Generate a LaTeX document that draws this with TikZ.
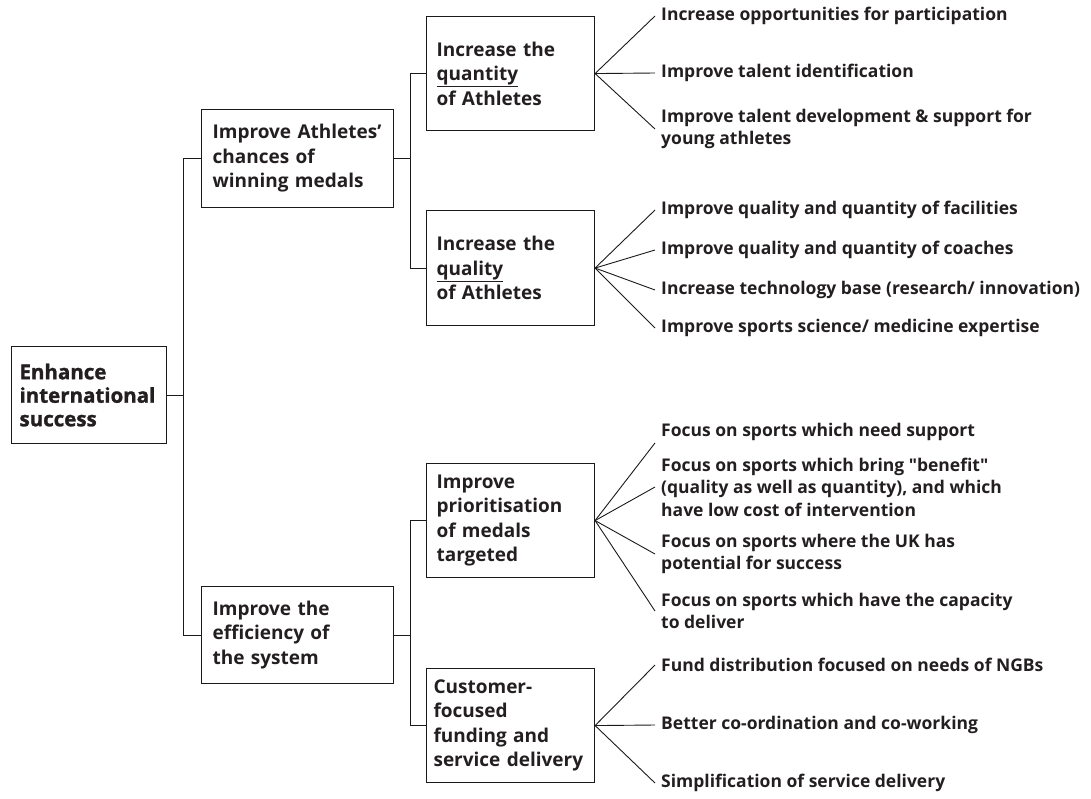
\documentclass[tikz,border=0pt]{standalone}
\usepackage{fontspec}
\setmainfont{Open Sans}
\newfontfamily\heavyface[BoldFeatures={FakeBold=1.3}]{Open Sans}
\definecolor{TXTdark}{HTML}{231F20}
\definecolor{LINEdark}{HTML}{1A1A1A}
\usetikzlibrary{calc, positioning}
\hyphenpenalty=10000
\newcommand{\boxfont}{\fontsize{19}{24.5}\selectfont\bfseries}
\newcommand{\rootfont}{\heavyface\fontsize{20.5}{23.5}\selectfont\bfseries}
\newcommand{\leaffont}{\fontsize{17.5}{22.5}\selectfont\bfseries}
\tikzset{
   box/.style={draw=LINEdark, line width=1.1pt, text=TXTdark, align=left, anchor=north west,
      inner xsep=10pt, inner ysep=0pt, font=\boxfont},
   leaf/.style={anchor=west, align=left, inner xsep=6pt, inner ysep=2pt, text=TXTdark, font=\leaffont},
   link/.style={draw=LINEdark, line width=0.9pt}
}

\begin{document}
\begin{tikzpicture}[x=1pt, y=-1pt]
   \useasboundingbox (0,0) rectangle (1091,798);
   % Goal
   \node[box, font=\rootfont, inner xsep=8pt, text width=139pt, minimum height=97pt] (goal) at (11,346)
      {Enhance\\ international\\ success};
   % Second level
   \node[box, inner xsep=11pt, text width=170pt, minimum height=98pt] (medals) at (201,109)
      {Improve Athletes’\\ chances of\\ winning medals};
   \node[box, inner xsep=11pt, text width=170pt, minimum height=97pt] (effic) at (201,586)
      {Improve the\\ efficiency of\\ the system};
   % Third level
   \node[box, text width=148pt, minimum height=114pt] (quant) at (426,16)
      {Increase the\\ \underline{quantity}\\ of Athletes};
   \node[box, text width=148pt, minimum height=115pt] (qual) at (426,210)
      {Increase the\\ \underline{quality}\\ of Athletes};
   \node[box, text width=148pt, minimum height=114pt] (prio) at (426,463)
      {Improve\\ prioritisation\\ of medals\\ targeted};
   \node[box, text width=154pt, inner xsep=7pt, minimum height=114pt] (cust) at (426,668)
      {Customer-\\ focused\\ funding and\\ service delivery};
   % Tree connectors
   \draw[link] (goal.east) -- ++(16,0) |- (medals.west);
   \draw[link] (goal.east) -- ++(16,0) |- (effic.west);
   \draw[link] (medals.east) -- ++(16,0) |- (quant.west);
   \draw[link] (medals.east) -- ++(16,0) |- (qual.west);
   \draw[link] (effic.east) -- ++(16,0) |- (prio.west);
   \draw[link] (effic.east) -- ++(16,0) |- (cust.west);
   % Actions: quantity
   \node[leaf] (qn1) at (655,16) {Increase opportunities for participation};
   \node[leaf] (qn2) at (655,73) {Improve talent identification};
   \node[leaf] (qn3) at (655,129) {Improve talent development \& support for\\ young athletes};
   % Actions: quality
   \node[leaf] (ql1) at (655,210) {Improve quality and quantity of facilities};
   \node[leaf] (ql2) at (655,250) {Improve quality and quantity of coaches};
   \node[leaf] (ql3) at (655,290) {Increase technology base (research/ innovation)};
   \node[leaf] (ql4) at (655,328) {Improve sports science/ medicine expertise};
   % Actions: prioritisation
   \node[leaf] (pr1) at (655,432) {Focus on sports which need support};
   \node[leaf] (pr2) at (655,487) {Focus on sports which bring \textquotedbl benefit\textquotedbl\\ (quality as well as quantity), and which\\ have low cost of intervention};
   \node[leaf] (pr3) at (655,554) {Focus on sports where the UK has\\ potential for success};
   \node[leaf] (pr4) at (655,611) {Focus on sports which have the capacity\\ to deliver};
   % Actions: customer focus
   \node[leaf] (cu1) at (655,665) {Fund distribution focused on needs of NGBs};
   \node[leaf] (cu2) at (655,725) {Better co-ordination and co-working};
   \node[leaf] (cu3) at (655,783) {Simplification of service delivery};
   % Fans
   \foreach \n in {qn1,qn2,qn3} \draw[link] (quant.east) -- (\n.west);
   \foreach \n in {ql1,ql2,ql3,ql4} \draw[link] (qual.east) -- (\n.west);
   \draw[link] (prio.east) -- (pr1.south west);
   \foreach \n in {pr2,pr3,pr4} \draw[link] (prio.east) -- (\n.west);
   \foreach \n in {cu1,cu2,cu3} \draw[link] (cust.east) -- (\n.west);
\end{tikzpicture}
\end{document}
